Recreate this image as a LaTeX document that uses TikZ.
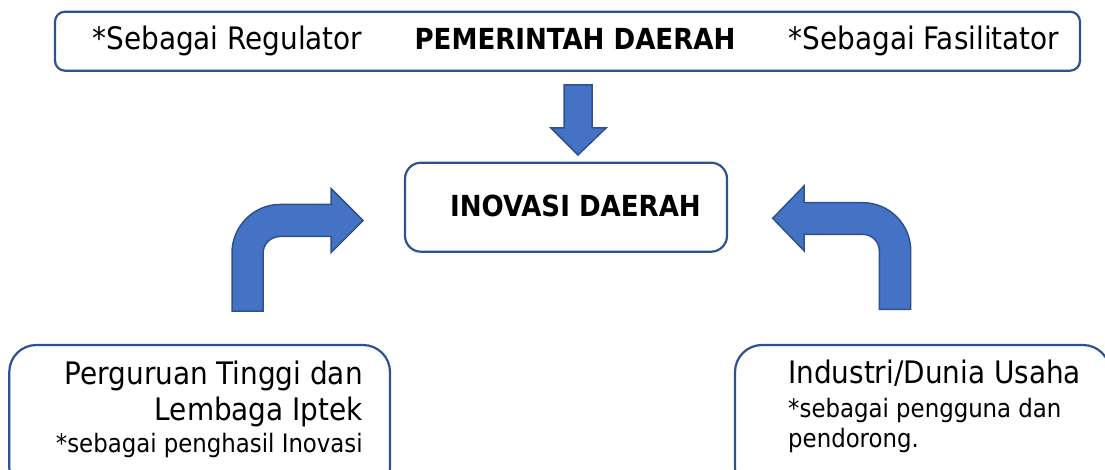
\documentclass[tikz,border=0pt]{standalone}
\usepackage{fontspec}
\IfFontExistsTF{DejaVu Sans Condensed}
  {\setmainfont{DejaVu Sans Condensed}}
  {\setmainfont{DejaVu Sans}[FakeStretch=0.9]}
\definecolor{boxline}{HTML}{2F528F}
\definecolor{arrowfill}{HTML}{4472C4}
\tikzset{
  rbox/.style={draw=boxline, line width=2.2pt, fill=white},
  blockarrow/.style={draw=boxline, line width=1.5pt, fill=arrowfill, line join=miter},
  bigtxt/.style={inner sep=0pt, font=\fontsize{31}{31}\selectfont},
  boldtxt/.style={inner sep=0pt, font=\fontsize{29}{29}\selectfont\bfseries},
  smalltxt/.style={inner sep=0pt, font=\fontsize{25.4}{25.4}\selectfont},
}
\begin{document}
\begin{tikzpicture}[x=1pt, y=-1pt]
\useasboundingbox (0,0) rectangle (1105,470);

% boxes
\draw[rbox, rounded corners=10pt] (55,11.7) rectangle (1080,70.7);
\draw[rbox, rounded corners=16pt] (405,162.7) rectangle (727,251.7);
\draw[rbox, rounded corners=27pt] (9.3,345) rectangle (390,495);
\draw[rbox, rounded corners=27pt] (735,345) rectangle (1110,495);

% top texts
\node[bigtxt, anchor=base] (reg) at (227.5,50) {*Sebagai Regulator};
\node[boldtxt, anchor=base] (pem) at (575,50) {PEMERINTAH DAERAH};
\node[bigtxt, anchor=base] (fas) at (924,50) {*Sebagai Fasilitator};

% center text
\node[boldtxt, anchor=base] (inov) at (575.5,217) {INOVASI DAERAH};

% bottom left texts
\node[bigtxt, anchor=base east] (pt1) at (363,384) {Perguruan Tinggi dan};
\node[bigtxt, anchor=base east] (pt2) at (363,420) {Lembaga Iptek};
\node[smalltxt, anchor=base east] (pt3) at (363,452) {*sebagai penghasil Inovasi};

% bottom right texts
\node[bigtxt, anchor=base west] (in1) at (788,383) {Industri/Dunia Usaha};
\node[smalltxt, anchor=base west] (in2) at (788,417) {*sebagai pengguna dan};
\node[smalltxt, anchor=base west] (in3) at (788,447) {pendorong.};

% down arrow
\draw[blockarrow] (564,85) -- (592,85) -- (592,128) -- (606,128) -- (578,155)
  -- (551,128) -- (564,128) -- cycle;

% left bent arrow
\draw[blockarrow] (232,311) -- (232,253)
  .. controls (232,226.5) and (253.5,204.5) .. (280,204.5)
  -- (331,204.5) -- (331,188.5) -- (363,220.5) -- (331,252.5) -- (331,236.5)
  -- (280,236.5)
  .. controls (270.6,236.5) and (263,244.1) .. (263,253.5)
  -- (263,311) -- cycle;

% right bent arrow
\draw[blockarrow] (910.7,309.3) -- (910.7,250.7)
  .. controls (910.7,224.2) and (889.2,202.7) .. (862.7,202.7)
  -- (804,202.7) -- (804,186) -- (772.7,218.3) -- (804,250.7) -- (804,234.3)
  -- (862.7,234.3)
  .. controls (871.9,234.3) and (879.3,241.6) .. (879.3,250.7)
  -- (879.3,309.3) -- cycle;
\end{tikzpicture}
\end{document}
